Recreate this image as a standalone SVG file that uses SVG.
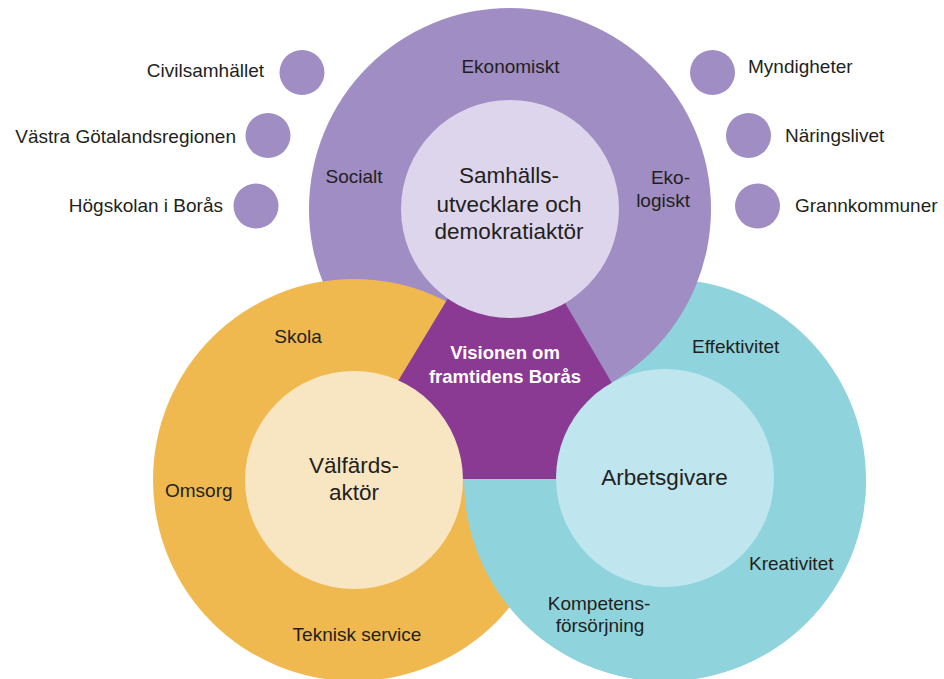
<svg xmlns="http://www.w3.org/2000/svg" width="944" height="679" viewBox="0 0 944 679">
<defs>
<style>
text{font-family:"Liberation Sans",Arial,sans-serif;fill:#231f20;font-size:19px}
.big{font-size:22.5px}
.vis{font-size:18.5px;font-weight:bold;fill:#ffffff}
.mid{text-anchor:middle}
.end{text-anchor:end}
.pO{fill:#9f8dc3}
.pI{fill:#ddd5eb}
.oO{fill:#efb94f}
.oI{fill:#f8e6c3}
.tO{fill:#8fd3dc}
.tI{fill:#bfe5ee}
.dot{fill:#9f8dc3}
</style>
<clipPath id="below"><rect x="0" y="479" width="944" height="200"/></clipPath>
</defs>
<rect width="944" height="679" fill="#ffffff"/>
<g id="outer-rings">
<circle class="tO" cx="665" cy="480" r="201"/>
<circle class="pO" cx="510" cy="209" r="201"/>
<circle class="oO" cx="354" cy="480" r="201"/>
<circle class="tO" cx="665" cy="480" r="201" clip-path="url(#below)"/>
</g>
<g id="vision">
<polygon fill="#8b3a93" points="506,202 339,479 668,479"/>
<text class="vis mid" x="505" y="359">Visionen om</text>
<text class="vis mid" x="505" y="383">framtidens Borås</text>
</g>
<g id="samhallsutvecklare">
<circle class="pI" cx="510" cy="209" r="109"/>
<text class="big mid" x="509" y="183">Samhälls-</text>
<text class="big mid" x="509" y="212">utvecklare och</text>
<text class="big mid" x="509" y="239">demokratiaktör</text>
<text class="mid" x="510.5" y="73">Ekonomiskt</text>
<text class="mid" x="354" y="183">Socialt</text>
<text class="end" x="690" y="184">Eko-</text>
<text class="end" x="690" y="207">logiskt</text>
</g>
<g id="valfardsaktor">
<circle class="oI" cx="354" cy="480" r="109"/>
<text class="big mid" x="354" y="473">Välfärds-</text>
<text class="big mid" x="354" y="500">aktör</text>
<text class="mid" x="298" y="343">Skola</text>
<text x="165" y="497">Omsorg</text>
<text class="mid" x="357" y="641">Teknisk service</text>
</g>
<g id="arbetsgivare">
<circle class="tI" cx="665" cy="478" r="109"/>
<text class="big mid" x="664.5" y="485">Arbetsgivare</text>
<text x="692" y="353">Effektivitet</text>
<text x="749" y="570">Kreativitet</text>
<text class="mid" x="599" y="610">Kompetens-</text>
<text class="mid" x="600" y="632">försörjning</text>
</g>
<g id="civilsamhallet"><circle class="dot" cx="302" cy="72.5" r="22.5"/><text class="end" x="264" y="77">Civilsamhället</text></g>
<g id="vastra-gotalandsregionen"><circle class="dot" cx="268" cy="135.5" r="22.5"/><text class="end" x="236" y="143">Västra Götalandsregionen</text></g>
<g id="hogskolan"><circle class="dot" cx="256" cy="206" r="22.5"/><text class="end" x="223" y="212">Högskolan i Borås</text></g>
<g id="myndigheter"><circle class="dot" cx="712.5" cy="72.5" r="22.5"/><text x="748" y="73">Myndigheter</text></g>
<g id="naringslivet"><circle class="dot" cx="748.5" cy="135.5" r="22.5"/><text x="785" y="142">Näringslivet</text></g>
<g id="grannkommuner"><circle class="dot" cx="757.5" cy="206" r="22.5"/><text x="795" y="212">Grannkommuner</text></g>
<g id="connectors"/>
</svg>
